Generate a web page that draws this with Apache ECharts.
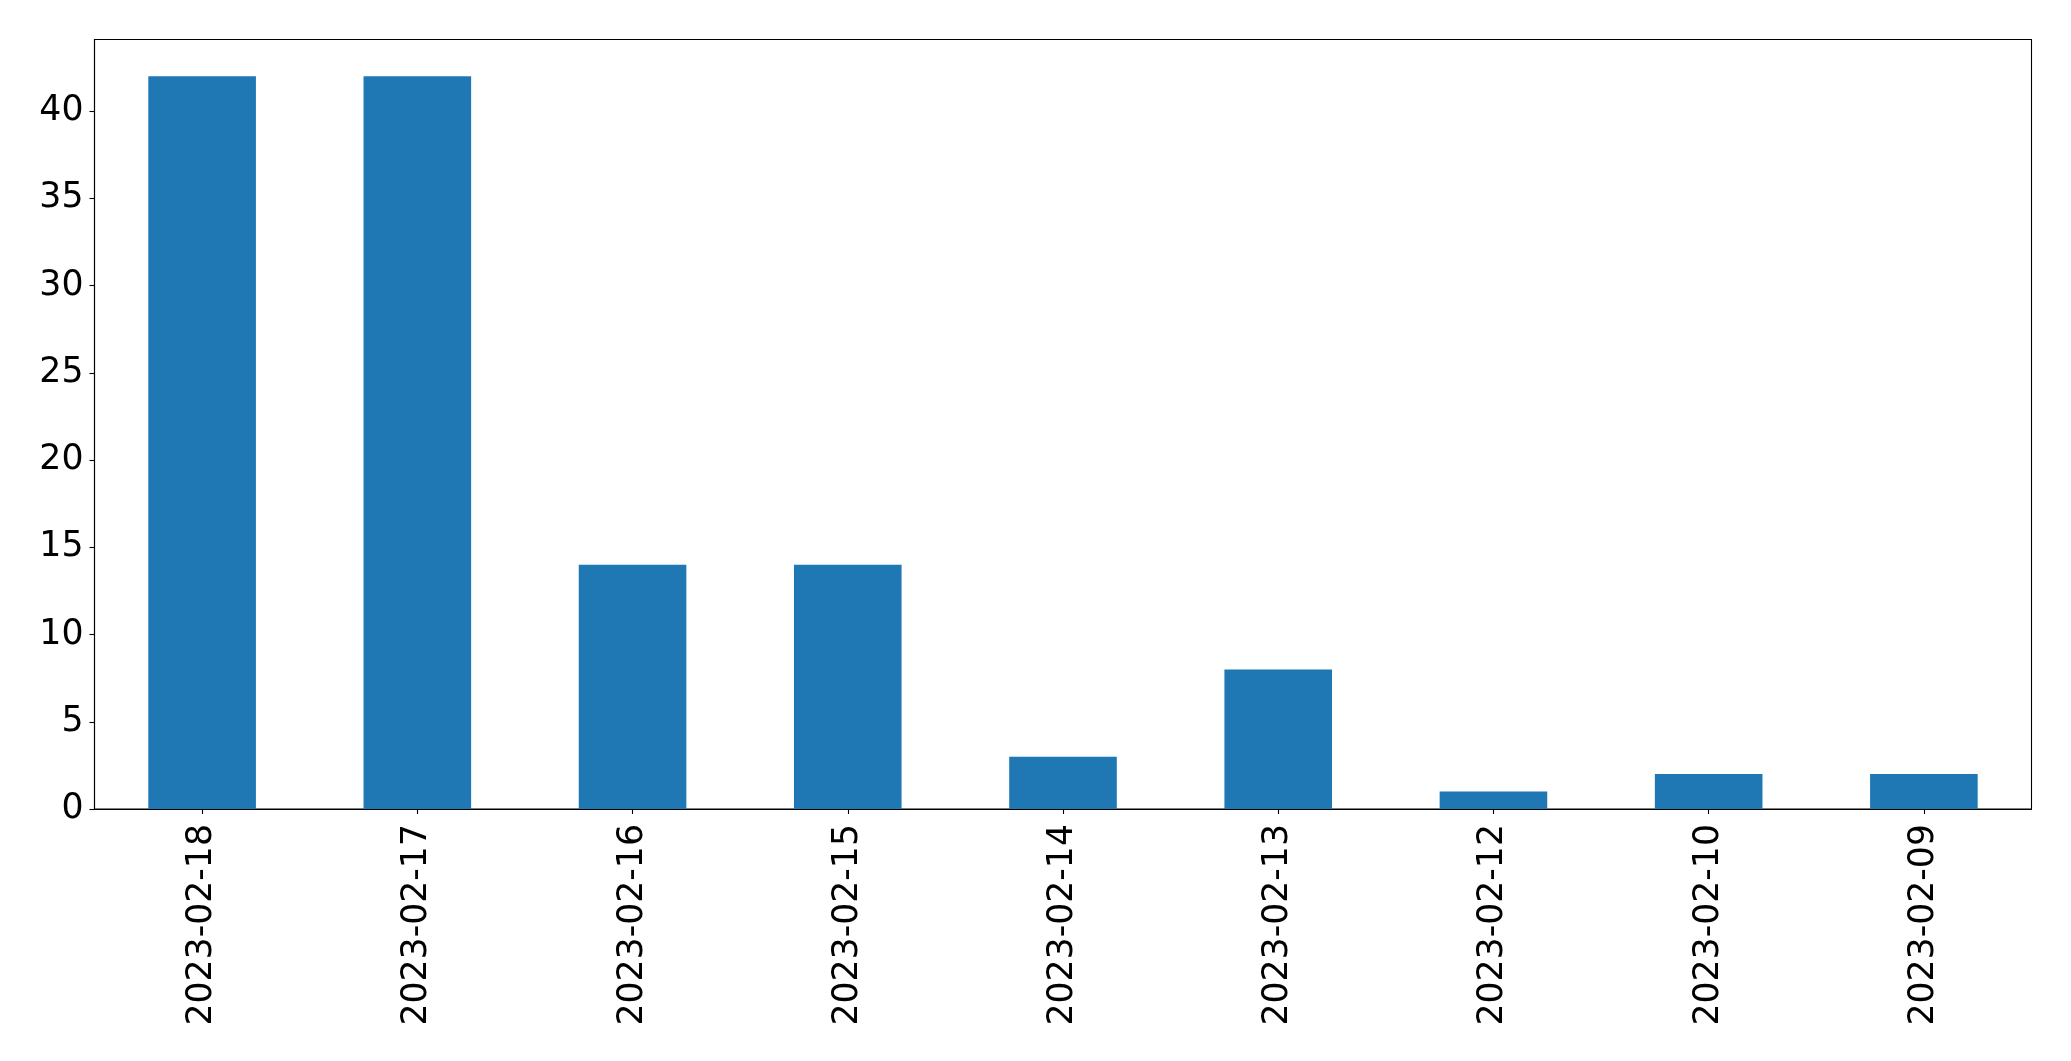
<!DOCTYPE html>
<html>
<head>
<meta charset="utf-8">
<script src="https://cdn.jsdelivr.net/npm/echarts@6/dist/echarts.min.js"></script>
<style>
html,body{margin:0;padding:0;background:#fff;}
#chart{width:2071px;height:1061px;}
</style>
</head>
<body>
<div id="chart"></div>
<script>
const categories = ['2023-02-18','2023-02-17','2023-02-16','2023-02-15','2023-02-14','2023-02-13','2023-02-12','2023-02-10','2023-02-09'];
const values = [42, 42, 14, 14, 3, 8, 1, 2, 2];
const yTicks = [0, 5, 10, 15, 20, 25, 30, 35, 40];

const chart = echarts.init(document.getElementById('chart'), null, {renderer: 'canvas'});
const font = 'DejaVu Sans';
chart.setOption({
  animation: false,
  backgroundColor: '#ffffff',
  grid: {
    left: 94.5, right: 39.5, top: 39.5, bottom: 252,
    show: true, borderColor: '#000', borderWidth: 1.1, backgroundColor: 'transparent'
  },
  xAxis: {
    type: 'category',
    data: categories,
    boundaryGap: true,
    axisLine: {show: true, lineStyle: {color: '#000', width: 1.1}},
    axisTick: {show: true, alignWithLabel: true, length: 5, lineStyle: {color: '#000', width: 1.1}},
    axisLabel: {rotate: 90, margin: 15, color: '#000', fontFamily: font, fontSize: 34.7, interval: 0},
    splitLine: {show: false}
  },
  yAxis: {
    type: 'value',
    min: 0,
    max: 44.1,
    interval: 5,
    axisLine: {show: true, lineStyle: {color: '#000', width: 1.1}},
    axisTick: {show: true, length: 5, customValues: yTicks, lineStyle: {color: '#000', width: 1.1}},
    axisLabel: {margin: 11, color: '#000', fontFamily: font, fontSize: 34.7, customValues: yTicks},
    splitLine: {show: false}
  },
  series: [{
    type: 'bar',
    data: values,
    barWidth: '50%',
    itemStyle: {color: '#1f77b4'}
  }]
});
</script>
</body>
</html>
